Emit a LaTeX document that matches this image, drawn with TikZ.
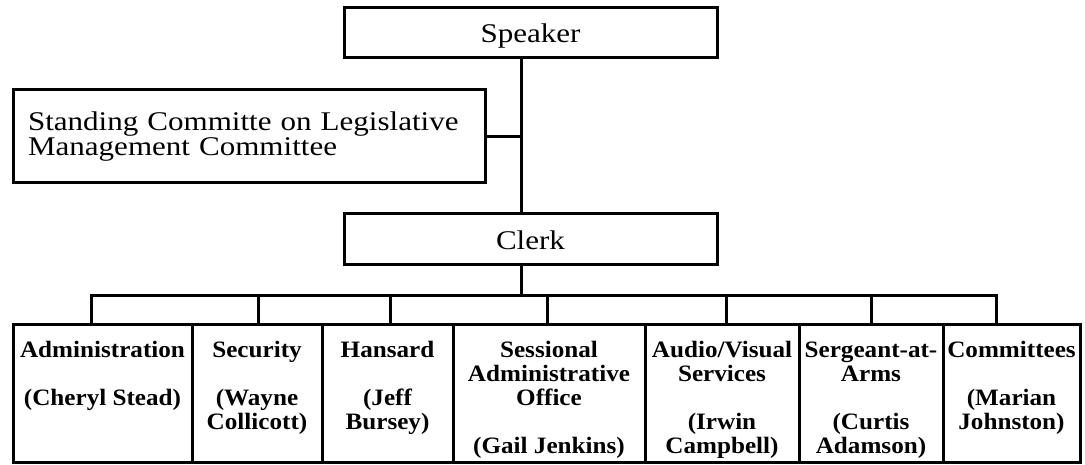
\documentclass[tikz,border=0pt]{standalone}
\usepackage{fontspec}
\setmainfont{Liberation Serif}[FakeStretch=1.15]
\newfontfamily\bfnt{Liberation Serif}[FakeStretch=1.07]
\newcommand\firststrut{\rule{0pt}{16pt}}
\begin{document}
\lineskiplimit=-100pt
\begin{tikzpicture}[x=1pt,y=-1pt,
  box/.style={draw, line width=3pt, rectangle, inner sep=0pt, outer sep=0pt},
  regtxt/.style={font=\fontsize{27}{21}\selectfont},
  topbox/.style={box, regtxt, anchor=north west, minimum width=373pt, text height=20pt, text depth=0pt},
  deptbox/.style={box, minimum height=138pt, anchor=north west},
  depttxt/.style={anchor=north, inner sep=0pt, align=center,
    font=\bfnt\bfseries\fontsize{23.5}{24}\selectfont},
  link/.style={draw, line width=3pt, line cap=rect}
]
\useasboundingbox (0,0) rectangle (1085,465);

% top boxes
\node[topbox, minimum height=50pt] (speaker) at (344,8) {Speaker};
\node[box, regtxt, anchor=north west, minimum width=472pt, minimum height=93pt,
      text width=442pt, inner xsep=15pt, align=left] (standing) at (13,90)
      {Standing Committe on Legislative\\Management Committee};
\node[topbox, minimum height=51pt] (clerk) at (344,214) {Clerk};

% department boxes
\node[deptbox, minimum width=179pt] (admin) at (13,324) {};
\node[deptbox, minimum width=130pt] (security) at (192,324) {};
\node[deptbox, minimum width=131pt] (hansard) at (322,324) {};
\node[deptbox, minimum width=192pt] (sessional) at (453,324) {};
\node[deptbox, minimum width=154pt] (audio) at (645,324) {};
\node[deptbox, minimum width=144pt] (sergeant) at (799,324) {};
\node[deptbox, minimum width=137pt] (committees) at (943,324) {};

% department texts
\node[depttxt] (admint) at ([yshift=-17pt]admin.north) {\firststrut Administration\\[24pt](Cheryl Stead)};
\node[depttxt] (securityt) at ([yshift=-17pt]security.north) {\firststrut Security\\[24pt](Wayne\\Collicott)};
\node[depttxt] (hansardt) at ([yshift=-17pt]hansard.north) {\firststrut Hansard\\[24pt](Jeff\\Bursey)};
\node[depttxt] (sessionalt) at ([yshift=-17pt]sessional.north) {\firststrut Sessional\\Administrative\\Office\\[24pt](Gail Jenkins)};
\node[depttxt] (audiot) at ([yshift=-17pt]audio.north) {\firststrut Audio/Visual\\Services\\[24pt](Irwin\\Campbell)};
\node[depttxt] (sergeantt) at ([yshift=-17pt]sergeant.north) {\firststrut Sergeant-at-\\Arms\\[24pt](Curtis\\Adamson)};
\node[depttxt] (committeest) at ([yshift=-17pt]committees.north) {\firststrut Committees\\[24pt](Marian\\Johnston)};

% connectors
\coordinate (trunk) at (521,0);
\coordinate (d1) at (91,296);
\coordinate (d2) at (258,296);
\coordinate (d3) at (390,296);
\coordinate (d4) at (547,296);
\coordinate (d5) at (726,296);
\coordinate (d6) at (871,296);
\coordinate (d7) at (996,296);

\draw[link] (speaker.south -| trunk) -- (clerk.north -| trunk);
\draw[link] (standing.east) -- (standing.east -| trunk);
\draw[link] (clerk.south -| trunk) -- (trunk |- d1);
\draw[link, line cap=butt, line join=miter] (admin.north -| d1) -- (d1) -- (d7) -- (committees.north -| d7);
\draw[link] (d2) -- (security.north -| d2);
\draw[link] (d3) -- (hansard.north -| d3);
\draw[link] (d4) -- (sessional.north -| d4);
\draw[link] (d5) -- (audio.north -| d5);
\draw[link] (d6) -- (sergeant.north -| d6);
\end{tikzpicture}
\end{document}
